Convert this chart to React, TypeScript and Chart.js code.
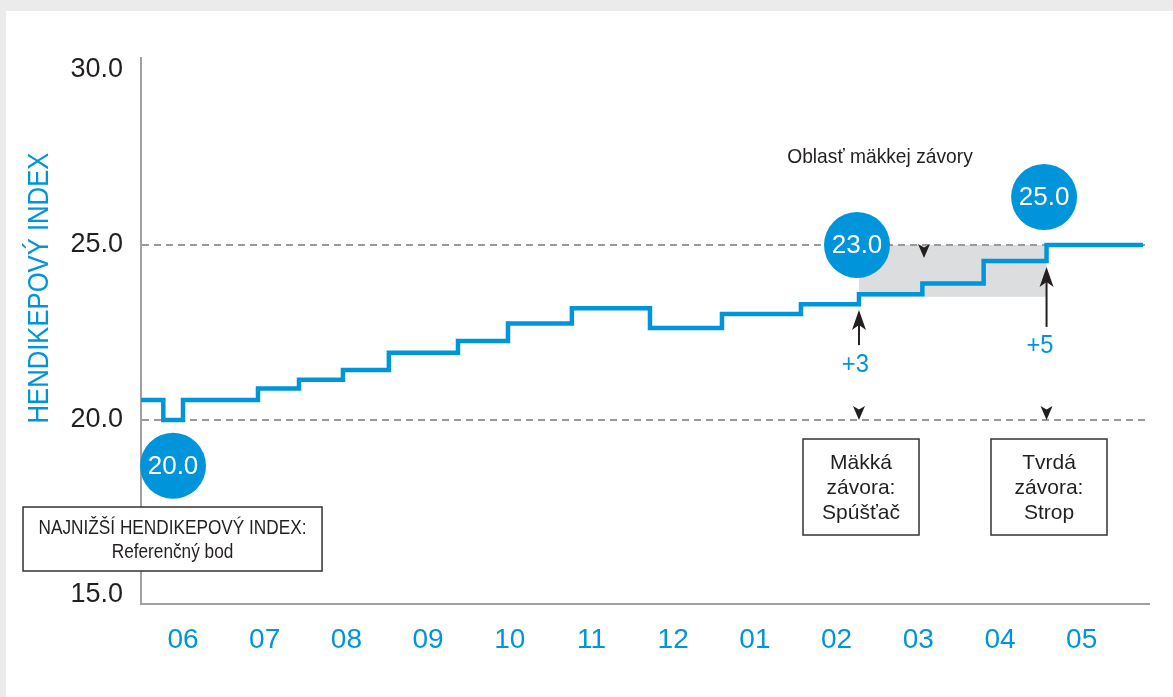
import React, { useEffect, useRef } from "react";
import { Chart, registerables } from "chart.js";

Chart.register(...registerables);

// ---------- data ----------
const monthLabels = ["06", "07", "08", "09", "10", "11", "12", "01", "02", "03", "04", "05"];
const monthTicks = [0, 1, 2, 3, 4, 5, 6, 7, 8, 9, 10, 11];
const yTicks = [15, 20, 25, 30];
const dashedLevels = [20, 25];

// handicap index steps (x = position in months, y = index after the step)
const stepX = [-0.514, -0.241, 0.0, 0.918, 1.42, 1.958, 2.52, 3.366, 3.978, 4.76, 5.716, 6.597, 7.564, 8.274, 9.05, 9.8, 10.57, 11.75];
const stepY = [20.57, 20.0, 20.57, 20.9, 21.15, 21.43, 21.92, 22.26, 22.76, 23.19, 22.63, 23.03, 23.31, 23.59, 23.9, 24.54, 25.0, 25.0];

// soft cap zone
const softZoneX = [8.274, 10.57];
const softZoneY = [23.52, 25.0];

// value badges
const badgeText = ["20.0", "23.0", "25.0"];
const badgeX = [-0.122, 8.25, 10.54];
const badgeY = [18.69, 25.0, 26.37];

// up arrows (+3 / +5)
const arrowLabel = ["+3", "+5"];
const arrowX = [8.274, 10.57];
const arrowTipY = [23.14, 24.37];
const arrowBaseY = [22.14, 22.66];
const arrowLabelX = [8.23, 10.49];
const arrowLabelY = [21.57, 22.11];

// small down markers
const markX = [9.07, 8.274, 10.57];
const markY = [24.63, 20.0, 20.0];

// ---------- styles ----------
const FONT = '"Liberation Sans", Arial, Helvetica, sans-serif';
const BLUE = "#0095da";
const TEXT = "#231f20";
const AXIS = "#a0a0a0";
const DASH = "#9a9a9a";
const ZONE = "#dcdddf";

const boxes = [
  { x0: -1.958, x1: 1.702, y0: 17.514, y1: 15.686, lines: ["NAJNIŽŠÍ HENDIKEPOVÝ INDEX:", "Referenčný bod"], lineY: [16.914, 16.229], size: 21, sx: 0.82 },
  { x0: 7.589, x1: 9.009, y0: 19.457, y1: 16.714, lines: ["Mäkká", "závora:", "Spúšťač"], lineY: [18.771, 18.057, 17.343], size: 21, sx: 1 },
  { x0: 9.89, x1: 11.31, y0: 19.457, y1: 16.714, lines: ["Tvrdá", "závora:", "Strop"], lineY: [18.771, 18.057, 17.343], size: 21, sx: 1 },
];

function drawText(ctx: CanvasRenderingContext2D, text: string, x: number, y: number, size: number, sx: number, color: string) {
  ctx.save();
  ctx.font = `${size}px ${FONT}`;
  ctx.fillStyle = color;
  ctx.textAlign = "center";
  ctx.textBaseline = "middle";
  ctx.translate(x, y);
  ctx.scale(sx, 1);
  ctx.fillText(text, 0, 0);
  ctx.restore();
}

function drawUpArrow(ctx: CanvasRenderingContext2D, x: number, tip: number, base: number) {
  const w = 14, h = 20;
  ctx.save();
  ctx.strokeStyle = TEXT;
  ctx.fillStyle = TEXT;
  ctx.lineWidth = 2;
  ctx.beginPath();
  ctx.moveTo(x, base);
  ctx.lineTo(x, tip + h * 0.6);
  ctx.stroke();
  ctx.beginPath();
  ctx.moveTo(x, tip);
  ctx.lineTo(x + w / 2, tip + h);
  ctx.lineTo(x, tip + h * 0.75);
  ctx.lineTo(x - w / 2, tip + h);
  ctx.closePath();
  ctx.fill();
  ctx.restore();
}

function drawDownMarker(ctx: CanvasRenderingContext2D, x: number, tip: number) {
  const w = 12, h = 14;
  ctx.save();
  ctx.fillStyle = TEXT;
  ctx.beginPath();
  ctx.moveTo(x, tip);
  ctx.lineTo(x + w / 2, tip - h);
  ctx.lineTo(x, tip - h * 0.75);
  ctx.lineTo(x - w / 2, tip - h);
  ctx.closePath();
  ctx.fill();
  ctx.restore();
}

const panelPlugin = {
  id: "panel",
  beforeDraw(chart: any) {
    const ctx = chart.ctx as CanvasRenderingContext2D;
    ctx.save();
    ctx.fillStyle = "#ebebeb";
    ctx.fillRect(0, 0, chart.width, chart.height);
    ctx.fillStyle = "#ffffff";
    ctx.fillRect(6, 11, chart.width - 6, chart.height - 11);
    const X = (v: number) => chart.scales.x.getPixelForValue(v);
    const Y = (v: number) => chart.scales.y.getPixelForValue(v);
    ctx.fillStyle = ZONE;
    ctx.fillRect(X(softZoneX[0]), Y(softZoneY[1]), X(softZoneX[1]) - X(softZoneX[0]), Y(softZoneY[0]) - Y(softZoneY[1]));
    ctx.restore();
  },
};

const annotatePlugin = {
  id: "annotate",
  afterDatasetsDraw(chart: any) {
    const ctx = chart.ctx as CanvasRenderingContext2D;
    const X = (v: number) => chart.scales.x.getPixelForValue(v);
    const Y = (v: number) => chart.scales.y.getPixelForValue(v);

    // zone label
    drawText(ctx, "Oblasť mäkkej závory", X(8.531), Y(27.514), 21, 0.915, TEXT);

    // arrows
    arrowX.forEach((ax, i) => {
      drawUpArrow(ctx, X(ax), Y(arrowTipY[i]), Y(arrowBaseY[i]));
      drawText(ctx, arrowLabel[i], X(arrowLabelX[i]), Y(arrowLabelY[i]), 25, 0.95, BLUE);
    });

    // markers
    markX.forEach((mx, i) => drawDownMarker(ctx, X(mx), Y(markY[i])));

    // boxes
    boxes.forEach((b) => {
      const x0 = X(b.x0), x1 = X(b.x1), y0 = Y(b.y0), y1 = Y(b.y1);
      ctx.save();
      ctx.fillStyle = "#ffffff";
      ctx.fillRect(x0, y0, x1 - x0, y1 - y0);
      ctx.strokeStyle = "#333333";
      ctx.lineWidth = 1.5;
      ctx.strokeRect(x0, y0, x1 - x0, y1 - y0);
      ctx.restore();
      b.lines.forEach((t, k) => drawText(ctx, t, (x0 + x1) / 2, Y(b.lineY[k]), b.size, b.sx, TEXT));
    });

    // badges
    badgeText.forEach((t, i) => {
      const cx = X(badgeX[i]), cy = Y(badgeY[i]);
      ctx.save();
      ctx.fillStyle = BLUE;
      ctx.beginPath();
      ctx.arc(cx, cy, 33, 0, Math.PI * 2);
      ctx.fill();
      ctx.restore();
      drawText(ctx, t, cx, cy + 1, 26, 1, "#ffffff");
    });
  },
  afterDraw(chart: any) {
    const ctx = chart.ctx as CanvasRenderingContext2D;
    const Y = (v: number) => chart.scales.y.getPixelForValue(v);
    ctx.save();
    ctx.translate(40, Y(23.77));
    ctx.rotate(-Math.PI / 2);
    drawText(ctx, "HENDIKEPOVÝ INDEX", 0, 0, 30, 0.855, BLUE);
    ctx.restore();
  },
};

export default function App() {
  const ref = useRef<HTMLCanvasElement | null>(null);

  useEffect(() => {
    if (!ref.current) return;
    const chart = new Chart(ref.current, {
      type: "line",
      data: {
        datasets: [
          {
            data: stepX.map((x, i) => ({ x, y: stepY[i] })),
            stepped: true,
            borderColor: BLUE,
            borderWidth: 4.5,
            pointRadius: 0,
            fill: false,
            borderJoinStyle: "miter",
          },
        ],
      },
      options: {
        animation: false,
        responsive: false,
        devicePixelRatio: 1,
        layout: { padding: { left: 0, top: 58, right: 24, bottom: 0 } },
        plugins: { legend: { display: false }, tooltip: { enabled: false } },
        scales: {
          x: {
            type: "linear",
            min: -0.514,
            max: 11.824,
            afterBuildTicks: (s: any) => {
              s.ticks = monthTicks.map((v) => ({ value: v }));
            },
            afterFit: (s: any) => {
              s.height = 93;
            },
            grid: { display: false, drawTicks: false },
            border: { display: true, color: AXIS, width: 2 },
            ticks: {
              callback: (v: any) => monthLabels[v as number],
              color: BLUE,
              font: { size: 28, family: FONT },
              padding: 19,
              autoSkip: false,
              maxRotation: 0,
            },
          },
          y: {
            type: "linear",
            min: 14.743,
            max: 30.343,
            afterBuildTicks: (s: any) => {
              s.ticks = yTicks.map((v) => ({ value: v }));
            },
            afterFit: (s: any) => {
              s.width = 141;
            },
            grid: {
              display: true,
              drawTicks: false,
              lineWidth: 2,
              color: (c: any) => (c.tick && dashedLevels.includes(c.tick.value) ? DASH : "rgba(0,0,0,0)"),
            },
            border: { display: true, color: AXIS, width: 2, dash: [7, 5] },
            ticks: {
              callback: (v: any) => Number(v).toFixed(1),
              color: TEXT,
              font: { size: 27, family: FONT },
              padding: 18,
            },
          },
        },
      },
      plugins: [panelPlugin, annotatePlugin],
    } as any);
    return () => chart.destroy();
  }, []);

  return (
    <div style={{ position: "fixed", left: 0, top: 0, width: 1173, height: 697 }}>
      <canvas ref={ref} width={1173} height={697} style={{ width: 1173, height: 697, display: "block" }} />
    </div>
  );
}
